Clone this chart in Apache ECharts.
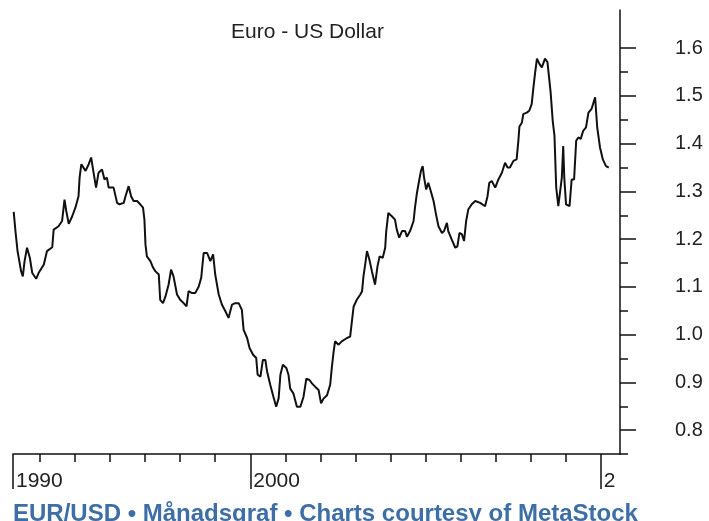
<!DOCTYPE html>
<html>
<head>
<meta charset="utf-8">
<script src="https://cdn.jsdelivr.net/npm/echarts@6/dist/echarts.min.js"></script>
<style>
  html, body { margin: 0; padding: 0; background: #fff; }
  #chart { width: 709px; height: 521px; }
</style>
</head>
<body>
<div id="chart"></div>
<script>
// EUR/USD (decimal year, rate)
var years = [
  1993.25, 1993.30, 1993.36, 1993.46, 1993.51, 1993.56, 1993.63, 1993.71, 1993.78, 1993.89, 1993.96,
  1994.11, 1994.20, 1994.35, 1994.39, 1994.53, 1994.63, 1994.70, 1994.75, 1994.82, 1994.92,
  1995.01, 1995.10, 1995.13, 1995.18, 1995.30, 1995.39, 1995.46, 1995.53, 1995.60, 1995.67, 1995.77, 1995.84, 1995.91, 1995.96,
  1996.10, 1996.20, 1996.27, 1996.39, 1996.44, 1996.53, 1996.60, 1996.67, 1996.77, 1996.86, 1996.94, 1996.98,
  1997.01, 1997.05, 1997.15, 1997.23, 1997.29, 1997.39, 1997.43, 1997.51, 1997.58, 1997.67, 1997.74, 1997.81, 1997.91,
  1998.00, 1998.10, 1998.18, 1998.24, 1998.34, 1998.43, 1998.53, 1998.60, 1998.67, 1998.77, 1998.86, 1998.94,
  1999.00, 1999.10, 1999.19, 1999.29, 1999.38, 1999.48, 1999.57, 1999.67, 1999.76, 1999.81, 1999.91, 1999.98,
  2000.08, 2000.17, 2000.21, 2000.29, 2000.36, 2000.43, 2000.48, 2000.57, 2000.66, 2000.74, 2000.81, 2000.86, 2000.93,
  2001.03, 2001.09, 2001.14, 2001.23, 2001.33, 2001.43, 2001.52, 2001.60, 2001.69, 2001.76, 2001.85, 2001.95,
  2002.02, 2002.09, 2002.19, 2002.28, 2002.33, 2002.38, 2002.42, 2002.52, 2002.61, 2002.76, 2002.85, 2002.90, 2002.95,
  2003.04, 2003.14, 2003.19, 2003.23, 2003.28, 2003.33, 2003.40, 2003.47, 2003.56, 2003.63, 2003.69, 2003.78, 2003.85, 2003.88, 2003.94,
  2004.04, 2004.13, 2004.18, 2004.25, 2004.33, 2004.42, 2004.47, 2004.56, 2004.66, 2004.70, 2004.75, 2004.80, 2004.87, 2004.92, 2004.96,
  2005.02, 2005.08, 2005.15, 2005.23, 2005.30, 2005.37, 2005.47, 2005.53, 2005.61, 2005.65, 2005.75, 2005.85, 2005.91, 2005.97,
  2006.04, 2006.10, 2006.16, 2006.22, 2006.32, 2006.42, 2006.56, 2006.70, 2006.77, 2006.82, 2006.89, 2006.99,
  2007.08, 2007.18, 2007.27, 2007.34, 2007.41, 2007.51, 2007.60, 2007.65, 2007.68, 2007.75, 2007.79, 2007.89, 2007.96,
  2008.03, 2008.08, 2008.13, 2008.18, 2008.25, 2008.32, 2008.41, 2008.48, 2008.53, 2008.57, 2008.63, 2008.68, 2008.73, 2008.79, 2008.84, 2008.89, 2008.93, 2008.96,
  2009.01, 2009.11, 2009.17, 2009.24, 2009.30, 2009.36, 2009.43, 2009.50, 2009.58, 2009.65, 2009.74, 2009.84, 2009.90, 2009.98,
  2010.06, 2010.15, 2010.23
];
var rates = [
  1.257, 1.217, 1.175, 1.133, 1.122, 1.154, 1.182, 1.161, 1.129, 1.117, 1.129,
  1.147, 1.175, 1.183, 1.220, 1.227, 1.238, 1.283, 1.259, 1.232, 1.248,
  1.266, 1.290, 1.329, 1.357, 1.343, 1.357, 1.371, 1.339, 1.308, 1.339, 1.346, 1.325, 1.329, 1.308,
  1.308, 1.276, 1.273, 1.276, 1.290, 1.311, 1.290, 1.280, 1.280, 1.273, 1.266, 1.241,
  1.189, 1.164, 1.154, 1.140, 1.133, 1.126, 1.073, 1.066, 1.080, 1.105, 1.136, 1.122, 1.084,
  1.073, 1.066, 1.059, 1.091, 1.087, 1.087, 1.101, 1.119, 1.171, 1.171, 1.154, 1.168,
  1.126, 1.084, 1.063, 1.049, 1.035, 1.063, 1.066, 1.066, 1.052, 1.010, 0.993, 0.972,
  0.958, 0.951, 0.916, 0.912, 0.947, 0.947, 0.923, 0.895, 0.870, 0.849, 0.867, 0.916, 0.937,
  0.930, 0.916, 0.887, 0.877, 0.849, 0.849, 0.870, 0.908, 0.905, 0.898, 0.891, 0.884,
  0.856, 0.866, 0.873, 0.895, 0.933, 0.965, 0.986, 0.979, 0.986, 0.993, 0.996, 1.028, 1.059,
  1.073, 1.084, 1.091, 1.122, 1.147, 1.175, 1.157, 1.133, 1.105, 1.143, 1.164, 1.161, 1.182, 1.217, 1.255,
  1.248, 1.241, 1.220, 1.203, 1.217, 1.217, 1.205, 1.217, 1.238, 1.266, 1.294, 1.315, 1.343, 1.353, 1.329,
  1.304, 1.318, 1.301, 1.280, 1.252, 1.227, 1.213, 1.217, 1.234, 1.217, 1.199, 1.182, 1.185, 1.213,
  1.210, 1.196, 1.238, 1.262, 1.273, 1.280, 1.276, 1.269, 1.290, 1.318, 1.322, 1.308,
  1.325, 1.339, 1.360, 1.350, 1.350, 1.364, 1.367, 1.406, 1.436, 1.444, 1.462, 1.465, 1.469,
  1.483, 1.518, 1.550, 1.578, 1.567, 1.560, 1.578, 1.571, 1.567, 1.508, 1.448, 1.417, 1.308, 1.269, 1.269, 1.329, 1.395, 1.329,
  1.273, 1.269, 1.325, 1.325, 1.406, 1.413, 1.410, 1.427, 1.434, 1.465, 1.473, 1.497, 1.434, 1.392,
  1.367, 1.353, 1.350
];

// axes
var xStart = 1993.23, xEnd = 2010.55;
var majorYearTicks = [1993.23, 2000, 2010];
var yearLabels = ['1990', '2000'];
var minorYearTicks = [1994, 1995, 1996, 1997, 1998, 1999, 2001, 2002, 2003, 2004, 2005, 2006, 2007, 2008, 2009];
var rateTicks = [0.8, 0.9, 1.0, 1.1, 1.2, 1.3, 1.4, 1.5, 1.6];
var rateMinorTicks = [0.75, 0.85, 0.95, 1.05, 1.15, 1.25, 1.35, 1.45, 1.55];
var rateMin = 0.75, rateMax = 1.68;

var ink = '#111';
var textColor = '#222';
var font = 'Liberation Sans, Arial, sans-serif';

var chart = echarts.init(document.getElementById('chart'), null, { renderer: 'canvas' });

var lineData = [];
for (var i = 0; i < years.length; i++) {
  lineData.push([years[i], rates[i]]);
}

var option = {
  backgroundColor: '#fff',
  animation: false,
  title: [{
    text: 'Euro - US Dollar',
    left: 226,
    top: 17,
    textStyle: { color: textColor, fontSize: 21, fontWeight: 'normal', fontFamily: font }
  }, {
    text: 'EUR/USD • Månadsgraf • Charts courtesy of MetaStock',
    left: 8,
    top: 497,
    textStyle: { color: '#3d6ea6', fontSize: 24, fontWeight: 'bold', fontFamily: font }
  }],
  grid: { left: 13, right: 89, top: 10, bottom: 67 },
  xAxis: [{
    // main axis: line, decade ticks, labels
    type: 'value',
    min: xStart, max: xEnd,
    position: 'bottom',
    splitLine: { show: false },
    axisLine: { show: true, lineStyle: { color: ink, width: 1.5 } },
    axisTick: { show: true, customValues: majorYearTicks, length: 35, lineStyle: { color: ink, width: 1.5 } },
    axisLabel: {
      customValues: [1993.23, 2000],
      formatter: function (v) { return v < 2000 ? yearLabels[0] : yearLabels[1]; },
      align: 'left', margin: 17, padding: [0, 0, 0, 3],
      color: textColor, fontSize: 21, fontFamily: font
    }
  }, {
    // yearly ticks
    type: 'value',
    min: xStart, max: xEnd,
    position: 'bottom',
    splitLine: { show: false },
    axisLine: { show: false },
    axisTick: { show: true, customValues: minorYearTicks, length: 8, lineStyle: { color: ink, width: 1.5 } },
    axisLabel: { show: false }
  }, {
    // 2010 label cut by the chart edge
    type: 'value',
    min: xStart, max: xEnd,
    position: 'bottom',
    splitLine: { show: false },
    axisLine: { show: false },
    axisTick: { show: false },
    axisLabel: {
      customValues: [2010],
      formatter: function () { return '2010'; },
      align: 'left', margin: 17, padding: [0, 0, 0, 3],
      width: 16, overflow: 'truncate', ellipsis: '',
      color: textColor, fontSize: 21, fontFamily: font
    }
  }],
  yAxis: [{
    type: 'value',
    min: rateMin, max: rateMax,
    position: 'right',
    splitLine: { show: false },
    axisLine: { show: true, lineStyle: { color: ink, width: 1.5 } },
    axisTick: { show: true, customValues: rateTicks, length: 16, lineStyle: { color: ink, width: 1.5 } },
    axisLabel: {
      customValues: rateTicks,
      formatter: function (v) { return v.toFixed(1); },
      margin: 55,
      color: textColor, fontSize: 20, fontFamily: font
    }
  }, {
    type: 'value',
    min: rateMin, max: rateMax,
    position: 'right',
    splitLine: { show: false },
    axisLine: { show: false },
    axisTick: { show: true, customValues: rateMinorTicks, length: 8, lineStyle: { color: ink, width: 1.5 } },
    axisLabel: { show: false }
  }],
  series: [{
    type: 'line',
    xAxisIndex: 0,
    yAxisIndex: 0,
    data: lineData,
    showSymbol: false,
    symbol: 'none',
    lineStyle: { color: ink, width: 2 }
  }]
};

chart.setOption(option);
</script>
</body>
</html>
